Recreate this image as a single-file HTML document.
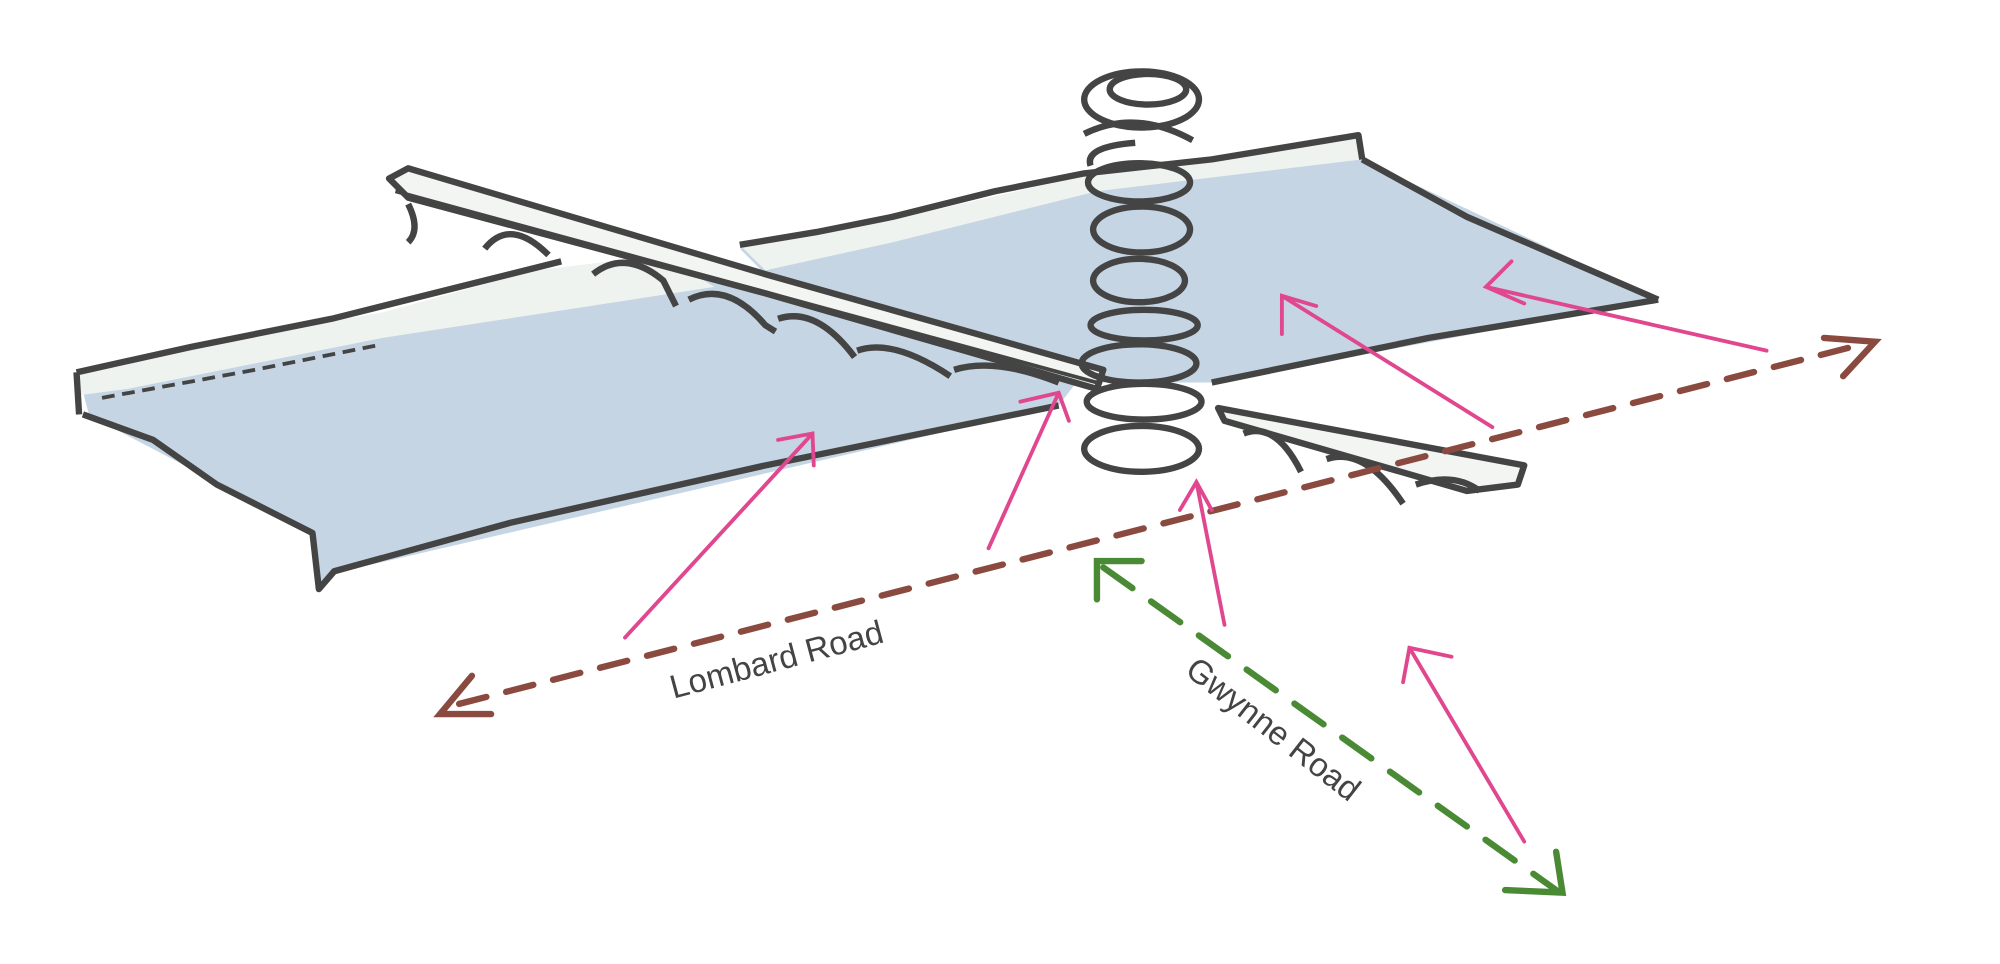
<!DOCTYPE html>
<html><head><style>
html,body{margin:0;padding:0;background:#fff;}
svg{display:block}
</style></head><body>
<svg width="2000" height="964" viewBox="0 0 1568 756" preserveAspectRatio="none" xmlns="http://www.w3.org/2000/svg">
<rect width="1568" height="756" fill="#fff"/>
<!-- right slab -->
<path d="M580,195 L700,175 L850,140 L1065,108 L1068,125 L1300,235 L950,300 L860,300 L600,215 Z" fill="#c5d5e3"/>
<path d="M580,192 L700,172 L850,138 L1065,106 L1068,125 L860,150 L700,190 L600,212 Z" fill="#eef3f0"/>
<path d="M580,192 L640,182 L700,170 L780,150 L850,136 L950,125 L1065,106 L1068,125 M1068,125 L1150,170 L1300,235 M1300,235 L1120,265 L950,300" fill="none" stroke="#444" stroke-width="5" stroke-linejoin="round"/>
<!-- left slab -->
<path d="M62,296 L300,250 L520,210 L850,292 L830,318 L260,450 L250,462 L246,418 L70,326 Z" fill="#c5d5e3"/>
<path d="M60,292 L200,262 L300,245 L420,212 L520,200 L560,225 L300,265 L100,305 L62,310 Z" fill="#eef3f0"/>
<path d="M60,292 L150,272 L260,250 L360,225 L440,205 M60,292 L62,325 M65,325 L120,345 L170,380 L245,418 L250,462 L262,448 L400,410 L600,365 L830,318" fill="none" stroke="#444" stroke-width="5" stroke-linejoin="round"/>
<path d="M80,312 L200,290 L300,270" fill="none" stroke="#444" stroke-width="3" stroke-dasharray="10 6"/>
<!-- bridge -->
<path d="M305,140 L320,132 L600,215 L865,290 L860,305 L600,230 L320,155 Z" fill="#f2f5f2" stroke="#444" stroke-width="5" stroke-linejoin="round"/>
<path d="M310,150 L860,300" stroke="#444" stroke-width="3"/>
<path d="M320,160 Q330,180 320,190 M380,195 Q400,170 430,200 M465,215 Q490,195 520,220 L530,240 M540,235 Q570,220 600,255 L608,260 M610,250 Q640,240 670,280 M672,275 Q700,265 745,295 M748,290 Q780,280 830,300" fill="none" stroke="#444" stroke-width="5"/>
<path d="M955,320 L1195,365 L1190,380 L1150,385 L960,330 Z" fill="#f2f5f2" stroke="#444" stroke-width="5" stroke-linejoin="round"/>
<path d="M975,340 Q1000,330 1020,370 M1040,360 Q1070,350 1100,395 M1110,380 Q1140,370 1160,385" fill="none" stroke="#444" stroke-width="5"/>
<!-- spiral column -->
<g fill="none" stroke="#444" stroke-width="5">
<ellipse cx="895" cy="78" rx="45" ry="22"/>
<ellipse cx="900" cy="70" rx="30" ry="12"/>
<path d="M850,105 Q890,85 935,110 M855,130 Q850,115 890,112"/>
<ellipse cx="893" cy="143" rx="40" ry="15"/>
<ellipse cx="895" cy="180" rx="38" ry="18"/>
<ellipse cx="893" cy="220" rx="36" ry="17"/>
<ellipse cx="897" cy="255" rx="42" ry="12"/>
<ellipse cx="893" cy="285" rx="45" ry="15"/>
<ellipse cx="897" cy="315" rx="45" ry="14"/>
<ellipse cx="895" cy="352" rx="45" ry="18"/>
</g>
<!-- Lombard Road dashed -->
<g stroke="#8b4a3f" stroke-width="5" fill="none" stroke-linecap="round">
<path d="M360,552 L1460,270" stroke-dasharray="22 16"/>
<path d="M370,530 L345,560 L385,560"/>
<path d="M1430,265 L1470,268 L1445,295"/>
</g>
<!-- Gwynne Road dashed -->
<g stroke="#4a8a35" stroke-width="5" fill="none" stroke-linecap="round">
<path d="M865,445 L1220,698" stroke-dasharray="28 18"/>
<path d="M860,470 L860,440 L895,440"/>
<path d="M1220,668 L1225,700 L1180,698"/>
</g>
<!-- pink arrows -->
<g stroke="#e0478f" stroke-width="3" fill="none" stroke-linecap="round">
<path d="M490,500 L637,340 M610,345 L637,340 L638,365"/>
<path d="M775,430 L830,308 M800,315 L830,308 L838,330"/>
<path d="M960,490 L938,378 M925,400 L938,378 L950,400"/>
<path d="M1170,335 L1005,232 M1005,262 L1005,232 L1032,240"/>
<path d="M1385,275 L1165,225 M1185,205 L1165,225 L1195,238"/>
<path d="M1195,660 L1105,508 M1100,535 L1105,508 L1138,515"/>
</g>
<text x="0" y="0" transform="translate(528,548) rotate(-15)" font-family="Liberation Sans, sans-serif" font-size="26" fill="#444">Lombard Road</text>
<text x="0" y="0" transform="translate(928,528) rotate(38)" font-family="Liberation Sans, sans-serif" font-size="26" fill="#444">Gwynne Road</text>
</svg>
</body></html>
